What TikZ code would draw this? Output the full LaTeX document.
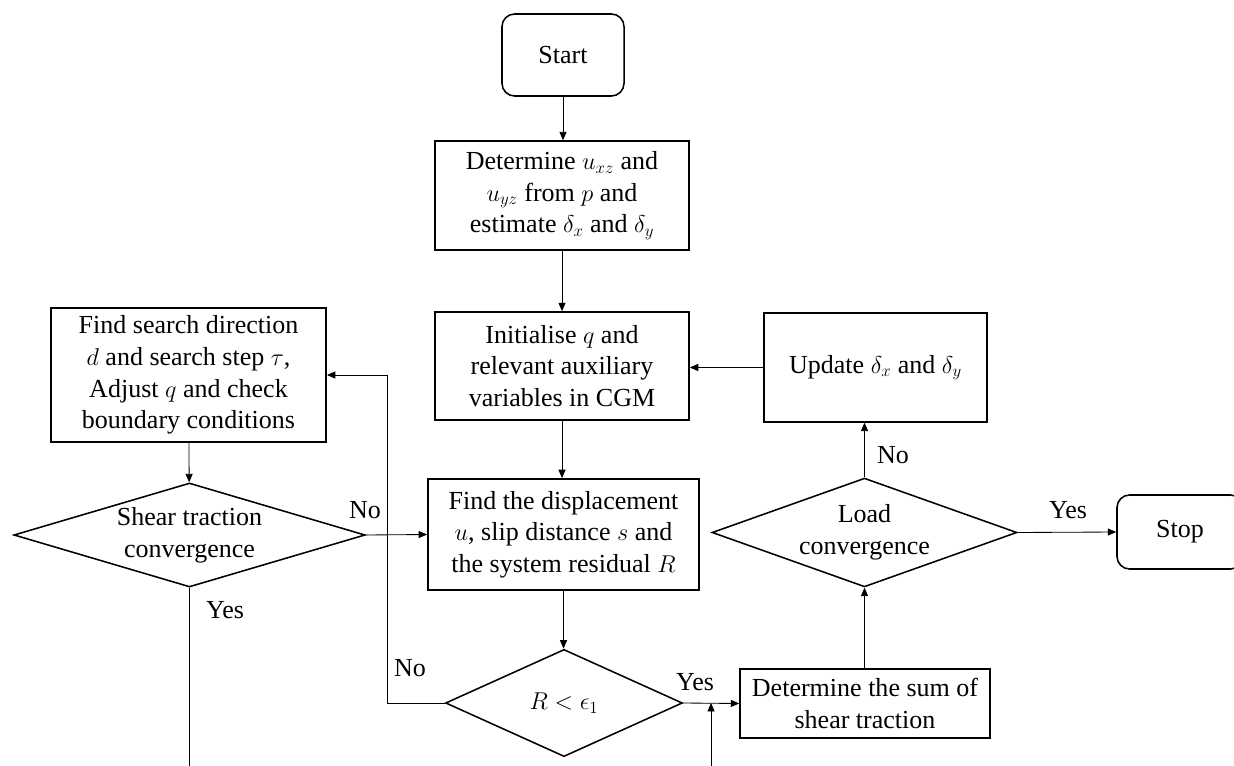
\documentclass[tikz,border=0pt]{standalone}
\usepackage{fontspec}
\setmainfont{Liberation Serif}
\usetikzlibrary{shapes.geometric,arrows.meta,positioning,calc}

\begin{document}
\begin{tikzpicture}[x=0.025cm, y=-0.025cm,
    nodes={font=\fontsize{18.5}{22.5}\selectfont, align=center},
    box/.style={draw, line width=1.1pt, inner sep=0pt},
    termbox/.style={box, rounded corners=9pt},
    decision/.style={draw, line width=1.1pt, diamond, inner sep=0pt},
    arr/.style={-{Triangle[length=6pt,width=5pt]}, line width=0.6pt},
    lbl/.style={inner sep=0pt}]
  \useasboundingbox (0,0) rectangle (1234,766);

  % main column
  \node[termbox, minimum width=3.05cm, minimum height=2.05cm] (start) at (563,55) {Start};
  \node[box, minimum width=6.35cm, minimum height=2.72cm] (det) at (562,195.5)
    {Determine $u_{xz}$ and\\ $u_{yz}$ from $p$ and\\ estimate $\delta_x$ and $\delta_y$};
  \node[box, minimum width=6.35cm, minimum height=2.7cm] (init) at (562,366)
    {Initialise $q$ and\\ relevant auxiliary\\ variables in CGM};
  \node[box, minimum width=6.78cm, minimum height=2.78cm] (findu) at (563.5,534.5)
    {Find the displacement\\ $u$, slip distance $s$ and\\ the system residual $R$};
  \node[decision, aspect=2.2, minimum width=5.92cm, minimum height=2.68cm] (rless) at (564,703)
    {$R<\epsilon_1$};

  % left branch
  \node[box, minimum width=6.88cm, minimum height=3.35cm] (search) at (188.5,375)
    {Find search direction\\ $d$ and search step $\tau$,\\ Adjust $q$ and check\\ boundary conditions};
  \node[decision, aspect=3.4, minimum width=8.78cm, minimum height=2.6cm] (shear) at (189.5,535)
    {Shear traction\\ convergence};

  % right branch
  \node[box, minimum width=6.25cm, minimum height=1.72cm] (sum) at (865,703.5)
    {Determine the sum of\\ shear traction};
  \node[decision, aspect=2.8, minimum width=7.62cm, minimum height=2.72cm] (load) at (864.5,532.5)
    {Load\\ convergence};
  \node[box, minimum width=5.58cm, minimum height=2.72cm] (update) at (875.5,367.5)
    {Update $\delta_x$ and $\delta_y$};
  \node[termbox, minimum width=3.15cm, minimum height=1.85cm] (stop) at (1180,532) {Stop};

  \coordinate (loopc) at (387,375);
  \coordinate (shearend) at (189.5,766);
  \coordinate (joinbot) at (711,766);
  \coordinate (join) at (711,703);

  \draw[arr] (start.south) -- (start.south |- det.north);
  \draw[arr] (det) -- (init);
  \draw[arr] (init.south) -- (init.south |- findu.north);
  \draw[arr] (findu.south) -- (findu.south |- rless.north);
  \draw[arr] (rless.west) -| (loopc) -- (search.east);
  \draw[arr] (search) -- (shear);
  \draw[arr] (shear.east) -- (findu.west);
  \draw[line width=0.6pt] (shear.south) -- (shearend);
  \draw[arr] (rless.east) -- (sum.west);
  \draw[arr] (joinbot) -- (join);
  \draw[arr] (sum.north -| load.south) -- (load.south);
  \draw[arr] (load.north) -- (load.north |- update.south);
  \draw[arr] (update.west) -- (update.west -| init.east);
  \draw[arr] (load.east) -- (stop.west);

  % labels
  \node[lbl] (shearno) at (365,510) {No};
  \node[lbl] (shearyes) at (225,610) {Yes};
  \node[lbl] (rno) at (410,668) {No};
  \node[lbl] (ryes) at (695,682) {Yes};
  \node[lbl] (loadno) at (893,455) {No};
  \node[lbl] (loadyes) at (1068,510) {Yes};
\end{tikzpicture}
\end{document}
